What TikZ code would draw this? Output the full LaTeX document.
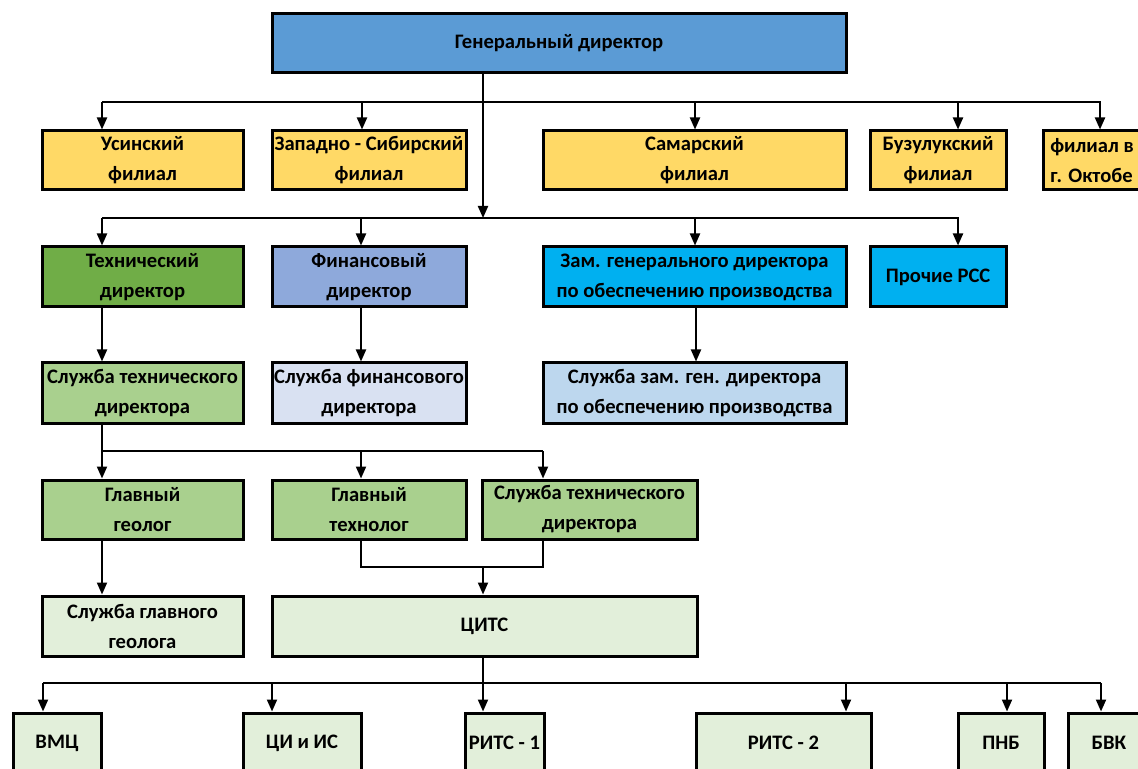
\documentclass[tikz,border=0pt]{standalone}
\usepackage{fontspec}
\setmainfont{Carlito}
\usetikzlibrary{arrows.meta}

\definecolor{gdblue}{HTML}{5B9BD5}
\definecolor{filgold}{HTML}{FFD966}
\definecolor{techgreen}{HTML}{70AD47}
\definecolor{finblue}{HTML}{8EA9DB}
\definecolor{zamcyan}{HTML}{00B0F0}
\definecolor{midgreen}{HTML}{A9D08E}
\definecolor{palefin}{HTML}{D9E1F2}
\definecolor{palezam}{HTML}{BDD7EE}
\definecolor{palegreen}{HTML}{E2EFDA}

\begin{document}
\begin{tikzpicture}[x=0.5pt,y=-0.5pt]
\tikzstyle{box}=[draw,line width=1.5pt,inner sep=0pt,align=center,
  font=\fontsize{10.3pt}{15pt}\selectfont\bfseries]
\tikzstyle{wire}=[line width=1pt]
\tikzstyle{arr}=[wire,-{Triangle[length=6pt,width=5pt]}]
\tikzset{sz/.style 2 args={minimum width=#1*0.5pt,minimum height=#2*0.5pt}}
\useasboundingbox (0,0) rectangle (1138,769);
\clip (0,0) rectangle (1138,769);

% head
\node [box,fill=gdblue,sz={574}{59}] (gd) at (559,43.5) {Генеральный директор};

% filials
\node [box,fill=filgold,sz={201}{59}] (usa) at (142.5,160.5) {Усинский\\филиал};
\node [box,fill=filgold,sz={194}{59}] (zsib) at (369,160.5) {Западно - Сибирский\\филиал};
\node [box,fill=filgold,sz={303}{59}] (sam) at (694.5,160.5) {Самарский\\филиал};
\node [box,fill=filgold,sz={136}{59}] (buz) at (938,160.5) {Бузулукский\\филиал};
\node [box,fill=filgold,sz={98}{59},align=left] (okt) at (1092,160.5) {филиал в\\г. Октобе};

% directors
\node [box,fill=techgreen,sz={201}{60}] (tech) at (142.5,277) {Технический\\директор};
\node [box,fill=finblue,sz={194}{60}] (fin) at (369,277) {Финансовый\\директор};
\node [box,fill=zamcyan,sz={303}{60}] (zam) at (694.5,277) {Зам. генерального директора\\по обеспечению производства};
\node [box,fill=zamcyan,sz={136}{60}] (rss) at (938,277) {Прочие РСС};

% services
\node [box,fill=midgreen,sz={201}{60}] (stech) at (142.5,393) {Служба технического\\директора};
\node [box,fill=palefin,sz={194}{60}] (sfin) at (369,393) {Служба финансового\\директора};
\node [box,fill=palezam,sz={303}{60}] (szam) at (694.5,393) {Служба зам. ген. директора\\по обеспечению производства};

% chiefs
\node [box,fill=midgreen,sz={201}{59}] (geol) at (142.5,509.5) {Главный\\геолог};
\node [box,fill=midgreen,sz={194}{59}] (techn) at (369,509.5) {Главный\\технолог};
\node [box,fill=midgreen,sz={215}{59}] (stech2) at (589.5,509.5) {Служба технического\\директора};

\node [box,fill=palegreen,sz={201}{60}] (sgeol) at (142.5,626) {Служба главного\\геолога};
\node [box,fill=palegreen,sz={425}{60}] (cits) at (484.5,626) {ЦИТС};

% bottom row
\node [box,fill=palegreen,sz={88}{60}] (vmc) at (57,743) {ВМЦ};
\node [box,fill=palegreen,sz={118}{60}] (ciis) at (302,743) {ЦИ и ИС};
\node [box,fill=palegreen,sz={79}{60}] (rits1) at (504.5,743) {РИТС - 1};
\node [box,fill=palegreen,sz={175}{60}] (rits2) at (783.5,743) {РИТС - 2};
\node [box,fill=palegreen,sz={86}{60}] (pnb) at (1001,743) {ПНБ};
\node [box,fill=palegreen,sz={82}{60}] (bvk) at (1109,743) {БВК};

% bus lines
\coordinate (b1w) at (102,102);
\coordinate (b1e) at (1101,102);
\coordinate (b2) at (483,218);
\coordinate (b2w) at (102,218);
\coordinate (b2e) at (959,218);
\coordinate (b4w) at (102,451);
\coordinate (b4e) at (543,451);
\coordinate (j5w) at (361,567);
\coordinate (j5) at (483,567);
\coordinate (j5e) at (543,567);
\coordinate (b6) at (483,683);
\coordinate (b6w) at (43,683);
\coordinate (b6e) at (1101,683);

\draw[wire] (b1w) -- (b1e);
\draw[arr] (gd.south -| b2) -- (b2);
\foreach \n/\x in {usa/102,zsib/362,sam/695,buz/958,okt/1100}
  \draw[arr] (\x,102) -- (\x,102 |- \n.north);

\draw[wire] (b2w) -- (b2e);
\foreach \n/\x in {tech/102,fin/361,zam/695,rss/958}
  \draw[arr] (\x,218) -- (\x,218 |- \n.north);

\draw[arr] (tech.south -| 102,0) -- (stech.north -| 102,0);
\draw[arr] (fin.south -| 361,0) -- (sfin.north -| 361,0);
\draw[arr] (zam.south -| 696,0) -- (szam.north -| 696,0);

\draw[wire] (stech.south -| b4w) -- (b4w) -- (b4e);
\foreach \n/\x in {geol/102,techn/361,stech2/543}
  \draw[arr] (\x,451) -- (\x,451 |- \n.north);

\draw[wire] (techn.south -| j5w) -- (j5w) -- (j5e) -- (stech2.south -| j5e);
\draw[arr] (j5) -- (cits.north -| j5);
\draw[arr] (geol.south -| 102,0) -- (sgeol.north -| 102,0);

\draw[wire] (cits.south -| b6) -- (b6);
\draw[wire] (b6w) -- (b6e);
\foreach \n/\x in {vmc/43,ciis/272,rits1/483,rits2/846,pnb/1007,bvk/1101}
  \draw[arr] (\x,683) -- (\x,683 |- \n.north);
\end{tikzpicture}
\end{document}
